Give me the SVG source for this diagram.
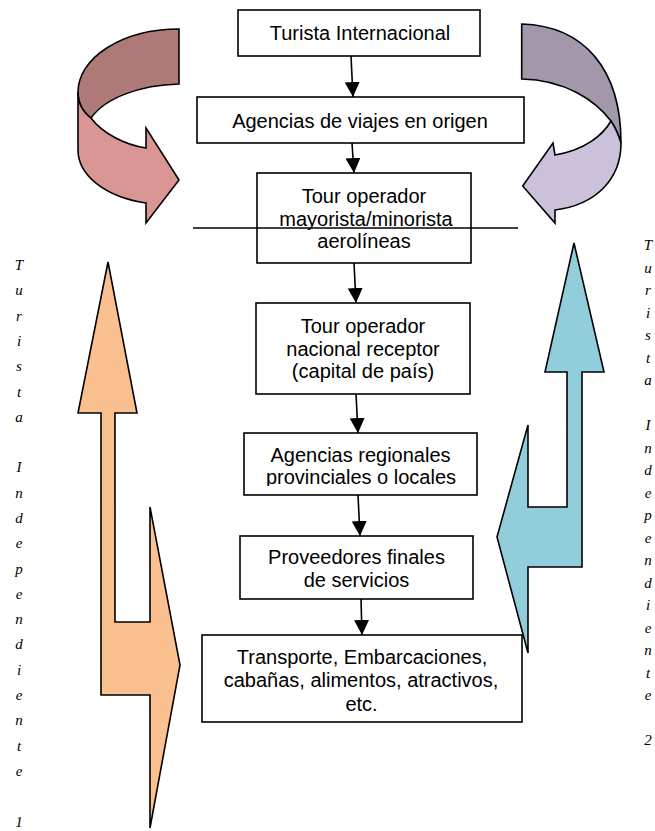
<svg xmlns="http://www.w3.org/2000/svg" width="655" height="831" viewBox="0 0 655 831">
<style>
.box{fill:#fff;stroke:#000;stroke-width:1.6}
.lbl{font-family:"Liberation Sans",Arial,sans-serif;font-size:20px;fill:#000;text-anchor:middle}
.conn{stroke:#000;stroke-width:1.6;fill:none}
.shape{stroke:#000;stroke-width:1.6;stroke-linejoin:miter}
.side{font-family:"Liberation Serif","Times New Roman",serif;font-style:italic;font-size:15px;fill:#000;text-anchor:middle}
</style>
<defs>
<marker id="ah" markerUnits="userSpaceOnUse" markerWidth="16" markerHeight="16" refX="15" refY="7.5" orient="auto">
<path d="M0,0 L15,7.5 L0,15 Z" fill="#000"/>
</marker>
<clipPath id="clip5"><rect x="240" y="430" width="240" height="56"/></clipPath>
</defs>

<g id="curved-left">
<path class="shape" fill="#AE7A78" d="M179,29 A101,63 0 0 0 78,92 C78,103 83,112 91,118 C105,98 140,85 179,84 Z"/>
<path class="shape" fill="#D99694" d="M78,92 L78,150 C78,175 105,197 146,203 L146,223 L179,180 L146,128 L146,148 C125,145 102,133 91,118 C83,112 78,103 78,92 Z"/>
</g>

<g id="curved-right">
<path class="shape" fill="#A398AB" d="M521.7,24 C585,26 621,70 621,143 C618,133 615,127 611,121 C595,100 565,80 521.7,79 Z"/>
<path class="shape" fill="#CCC1DA" d="M611,121 C603,135 585,150 555,155 L553,143 L522.7,186 L555,223 L555,210 C595,205 621,180 621,143 C618,133 615,127 611,121 Z"/>
</g>

<g id="arrow-left-orange">
<path class="shape" fill="#FAC090" d="M108,262 L137,413 L115,413 L115,622 L150,622 L150,507 L180,665 L150,828 L150,695 L101,695 L101,413 L78,413 Z"/>
</g>

<g id="arrow-right-blue">
<path class="shape" fill="#92CDDC" d="M574,243 L604,372 L582,372 L582,567 L528,567 L528,653 L497,537 L528,425 L528,507 L567,507 L567,372 L545,372 Z"/>
</g>

<g id="connectors">
<line class="conn" x1="351" y1="56" x2="353" y2="97" marker-end="url(#ah)"/>
<line class="conn" x1="352" y1="143" x2="354" y2="173" marker-end="url(#ah)"/>
<line class="conn" x1="354" y1="263" x2="356" y2="303" marker-end="url(#ah)"/>
<line class="conn" x1="356" y1="394" x2="358" y2="433" marker-end="url(#ah)"/>
<line class="conn" x1="358" y1="495" x2="360" y2="536" marker-end="url(#ah)"/>
<line class="conn" x1="361" y1="599" x2="362" y2="635" marker-end="url(#ah)"/>
</g>

<g id="n1">
<rect class="box" x="238" y="10" width="242" height="46"/>
<text class="lbl" x="360" y="40">Turista Internacional</text>
</g>
<g id="n2">
<rect class="box" x="197" y="97" width="327" height="46"/>
<text class="lbl" x="360" y="128">Agencias de viajes en origen</text>
</g>
<g id="n3">
<rect class="box" x="257" y="173" width="214" height="90"/>
<text class="lbl" x="364" y="203">Tour operador</text>
<text class="lbl" x="366" y="226">mayorista/minorista</text>
<text class="lbl" x="364" y="248">aerolíneas</text>
</g>
<line id="cut-line" class="conn" x1="193" y1="228" x2="518" y2="228"/>
<g id="n4">
<rect class="box" x="256" y="303" width="214" height="91"/>
<text class="lbl" x="363" y="333">Tour operador</text>
<text class="lbl" x="363" y="356">nacional receptor</text>
<text class="lbl" x="363" y="378">(capital de país)</text>
</g>
<g id="n5">
<rect class="box" x="244" y="433" width="233" height="62"/>
<text class="lbl" x="360.5" y="462">Agencias regionales</text>
<text class="lbl" x="361" y="484" clip-path="url(#clip5)">provinciales o locales</text>
</g>
<g id="n6">
<rect class="box" x="240" y="536" width="233" height="63"/>
<text class="lbl" x="356.5" y="564">Proveedores finales</text>
<text class="lbl" x="356.5" y="587">de servicios</text>
</g>
<g id="n7">
<rect class="box" x="202" y="635" width="320" height="87"/>
<text class="lbl" x="362" y="664">Transporte, Embarcaciones,</text>
<text class="lbl" x="361" y="687">cabañas, alimentos, atractivos,</text>
<text class="lbl" x="361.5" y="711">etc.</text>
</g>

<g id="label-left">
<text class="side">
<tspan x="19" y="270">T</tspan><tspan x="19" dy="25.3">u</tspan><tspan x="19" dy="25.3">r</tspan><tspan x="19" dy="25.3">i</tspan><tspan x="19" dy="25.3">s</tspan><tspan x="19" dy="25.3">t</tspan><tspan x="19" dy="25.3">a</tspan><tspan x="19" dy="50.6">I</tspan><tspan x="19" dy="25.3">n</tspan><tspan x="19" dy="25.3">d</tspan><tspan x="19" dy="25.3">e</tspan><tspan x="19" dy="25.3">p</tspan><tspan x="19" dy="25.3">e</tspan><tspan x="19" dy="25.3">n</tspan><tspan x="19" dy="25.3">d</tspan><tspan x="19" dy="25.3">i</tspan><tspan x="19" dy="25.3">e</tspan><tspan x="19" dy="25.3">n</tspan><tspan x="19" dy="25.3">t</tspan><tspan x="19" dy="25.3">e</tspan><tspan x="19" dy="50.6">1</tspan>
</text>
</g>
<g id="label-right">
<text class="side">
<tspan x="648" y="250">T</tspan><tspan x="648" dy="22.5">u</tspan><tspan x="648" dy="22.5">r</tspan><tspan x="648" dy="22.5">i</tspan><tspan x="648" dy="22.5">s</tspan><tspan x="648" dy="22.5">t</tspan><tspan x="648" dy="22.5">a</tspan><tspan x="648" dy="45">I</tspan><tspan x="648" dy="22.5">n</tspan><tspan x="648" dy="22.5">d</tspan><tspan x="648" dy="22.5">e</tspan><tspan x="648" dy="22.5">p</tspan><tspan x="648" dy="22.5">e</tspan><tspan x="648" dy="22.5">n</tspan><tspan x="648" dy="22.5">d</tspan><tspan x="648" dy="22.5">i</tspan><tspan x="648" dy="22.5">e</tspan><tspan x="648" dy="22.5">n</tspan><tspan x="648" dy="22.5">t</tspan><tspan x="648" dy="22.5">e</tspan><tspan x="648" dy="45">2</tspan>
</text>
</g>
</svg>
